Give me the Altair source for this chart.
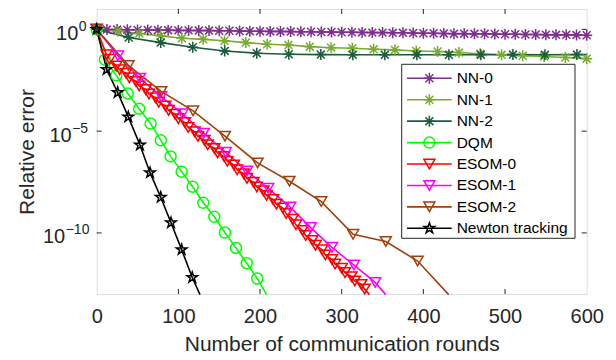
import math
import altair as alt
import pandas as pd

# ---------------- data ----------------
names = ["NN-0", "NN-1", "NN-2", "DQM", "ESOM-0", "ESOM-1", "ESOM-2", "Newton tracking"]
colors = ["#7E2F8E", "#77AC30", "#1A5C3C", "#00FF00", "#FF0000", "#FF00FF", "#A2400D", "#000000"]

nn0_x = [0, 12.5, 25, 37.5, 50, 62.5, 75, 87.5, 100, 112.5, 125, 137.5, 150, 162.5, 175, 187.5,
         200, 212.5, 225, 237.5, 250, 262.5, 275, 287.5, 300, 312.5, 325, 337.5, 350, 362.5, 375,
         387.5, 400, 412.5, 425, 437.5, 450, 462.5, 475, 487.5, 500, 512.5, 525, 537.5, 550, 562.5,
         575, 587.5, 600]
nn0_log = [0.00, -0.01, -0.01, -0.02, -0.03, -0.03, -0.04, -0.04, -0.05, -0.05, -0.06, -0.06, -0.07,
           -0.07, -0.08, -0.09, -0.09, -0.10, -0.10, -0.11, -0.12, -0.12, -0.13, -0.13, -0.14, -0.14,
           -0.15, -0.16, -0.16, -0.17, -0.17, -0.18, -0.19, -0.19, -0.20, -0.21, -0.21, -0.22, -0.22,
           -0.23, -0.24, -0.24, -0.25, -0.25, -0.26, -0.27, -0.27, -0.28, -0.29]

nn1_x = [0, 26.1, 52.2, 78.3, 104.3, 130.4, 156.5, 182.6, 208.7, 234.8, 260.9, 287.0, 313.0, 339.1,
         365.2, 391.3, 417.4, 443.5, 469.6, 495.7, 521.7, 547.8, 573.9, 600]
nn1_log = [0, -0.09, -0.20, -0.32, -0.44, -0.49, -0.56, -0.65, -0.73, -0.77, -0.85, -0.90, -0.93,
           -0.98, -1.01, -1.06, -1.09, -1.14, -1.20, -1.25, -1.30, -1.33, -1.38, -1.44]

nn2_x = [0, 39.2, 78.4, 117.6, 156.8, 196.0, 235.2, 274.4, 313.6, 352.8, 392.0, 431.2, 470.4,
         509.6, 548.8, 588.0]
nn2_log = [0, -0.40, -0.65, -0.88, -1.06, -1.17, -1.22, -1.24, -1.25, -1.25, -1.25, -1.25, -1.25,
           -1.24, -1.25, -1.24]
nn2_end = (600, -1.24)

dqm_x = [0, 10, 24, 38, 52, 66, 78.5, 90.5, 104, 117.5, 130.5, 144, 157, 170.6, 183.7, 196.6]
dqm_log = [0, -1.49, -2.26, -3.15, -3.90, -4.63, -5.45, -6.24, -6.99, -7.73, -8.52, -9.21, -9.98,
           -10.74, -11.49, -12.24]
dqm_end = (208, -13.03)

esom0_x = [0, 12, 16, 24, 28, 36, 40, 48, 52, 60, 64, 72, 76, 84, 88, 96, 100, 108, 112, 120, 124,
           132, 136, 144, 148, 156, 160, 168, 172, 180, 184, 192, 196, 204, 208, 216, 220, 228, 232,
           240, 244, 252, 256, 264, 268, 276, 280, 288, 292, 300, 304, 312, 316, 324, 328]
esom0_log = [0, -1.25, -1.47, -1.80, -1.98, -2.16, -2.38, -2.56, -2.78, -2.96, -3.18, -3.36, -3.58,
             -3.76, -3.98, -4.17, -4.39, -4.58, -4.82, -5.03, -5.26, -5.45, -5.67, -5.85, -6.07,
             -6.25, -6.48, -6.66, -6.90, -7.09, -7.32, -7.51, -7.74, -7.93, -8.16, -8.36, -8.59,
             -8.78, -9.05, -9.33, -9.60, -9.88, -10.13, -10.37, -10.61, -10.83, -11.08, -11.30,
             -11.53, -11.74, -11.95, -12.15, -12.36, -12.53, -12.75]
esom0_end = (334, -13.03)

esom1_x = [0, 26, 53, 79, 105, 131, 158, 184, 210, 237, 262, 288, 315, 341]
esom1_log = [0, -1.30, -2.40, -3.30, -4.15, -5.10, -6.04, -6.96, -7.81, -8.73, -9.74, -10.71,
             -11.58, -12.43]
esom1_end = (354, -13.03)

esom2_x = [0, 39, 79, 118, 157, 197, 236, 275, 314, 354, 393]
esom2_log = [0, -1.78, -3.05, -4.00, -5.25, -6.56, -7.46, -8.46, -10.07, -10.42, -11.38]
esom2_end = (431, -13.03)

newton_x = [0, 12.2, 25.7, 38.7, 53, 65.3, 78.4, 91, 104, 117]
newton_log = [0, -1.97, -3.10, -4.30, -5.68, -7.04, -8.25, -9.50, -10.82, -12.19]
newton_end = (126.5, -13.03)

x_ticks = [0, 100, 200, 300, 400, 500, 600]
y_tick_exp = [0, -5, -10]
y_tick_text = ["0", "\u22125", "\u221210"]

# ---------------- build table ----------------
rows = []


def add(series, xs, logs, end=None):
    for xv, lv in zip(xs, logs):
        rows.append({"series": series, "x": xv, "y": 10.0 ** lv, "m": True})
    if end is not None:
        rows.append({"series": series, "x": end[0], "y": 10.0 ** end[1], "m": False})


add("NN-0", nn0_x, nn0_log)
add("NN-1", nn1_x, nn1_log)
add("NN-2", nn2_x, nn2_log, nn2_end)
add("DQM", dqm_x, dqm_log, dqm_end)
add("ESOM-0", esom0_x, esom0_log, esom0_end)
add("ESOM-1", esom1_x, esom1_log, esom1_end)
add("ESOM-2", esom2_x, esom2_log, esom2_end)
add("Newton tracking", newton_x, newton_log, newton_end)
df = pd.DataFrame(rows)

# ---------------- marker shapes ----------------
star_pts = []
for i in range(10):
    ang = math.radians(-90 + 36 * i)
    r = 1.0 if i % 2 == 0 else 0.382
    star_pts.append(f"{r * math.cos(ang):.3f},{r * math.sin(ang):.3f}")
star = "M" + "L".join(star_pts) + "Z"
asterisk = "M0,-1L0,1M-1,0L1,0M-0.72,-0.72L0.72,0.72M-0.72,0.72L0.72,-0.72"
shapes = [asterisk, asterisk, asterisk, "circle", "triangle-down", "triangle-down",
          "triangle-down", star]
sizes = [121, 121, 121, 112, 144, 144, 144, 180]

W, H = 490, 285
AX = "#262626"
FONT = "Liberation Sans"

xscale = alt.Scale(domain=[0, 600], nice=False, zero=False)
yscale = alt.Scale(type="log", domain=[1e-13, 10], nice=False)
cscale = alt.Scale(domain=names, range=colors)
sscale = alt.Scale(domain=names, range=shapes)
zscale = alt.Scale(domain=names, range=sizes)

xaxis = alt.Axis(values=x_ticks, ticks=False, tickSize=0, domain=False, grid=False,
                 labelFontSize=20, labelColor=AX, labelPadding=28.5, labelBaseline="alphabetic",
                 labelFlush=False, labelFont=FONT,
                 title="Number of communication rounds", titleFontSize=21,
                 titleFontWeight="normal", titleColor=AX, titleFont=FONT,
                 titleBaseline="alphabetic", titleY=57, titleX=W / 2, titleAnchor="middle")
yaxis = alt.Axis(values=[10.0 ** e for e in y_tick_exp], ticks=False, tickSize=0, domain=False,
                 grid=False, labels=False,
                 title="Relative error", titleFontSize=21, titleFontWeight="normal",
                 titleColor=AX, titleFont=FONT, titleAngle=270, titleBaseline="alphabetic",
                 titleX=-63.5, titleY=H / 2, titleAnchor="middle")


def X(f):
    return alt.X(f, scale=xscale, axis=xaxis)


def Y(f):
    return alt.Y(f, scale=yscale, axis=yaxis)


color = alt.Color("series:N", scale=cscale, legend=None)
shape = alt.Shape("series:N", scale=sscale, legend=None)
size = alt.Size("series:N", scale=zscale, legend=None)

base = alt.Chart(df)
lines = base.mark_line(strokeWidth=1.6).encode(
    x=X("x:Q"), y=Y("y:Q"), color=color, detail="series:N", order="x:Q")
points = base.transform_filter("datum.m").mark_point(filled=False, strokeWidth=1.5, opacity=1).encode(
    x=X("x:Q"), y=Y("y:Q"), color=color, shape=shape, size=size)

xt = pd.DataFrame({"x": x_ticks[1:-1]})
yt = pd.DataFrame({"y": [10.0 ** e for e in y_tick_exp]})
tick_style = dict(color=AX, strokeWidth=1)
t_bottom = alt.Chart(xt).mark_rule(**tick_style).encode(x=X("x:Q"), y=alt.value(H), y2=alt.value(H - 5))
t_top = alt.Chart(xt).mark_rule(**tick_style).encode(x=X("x:Q"), y=alt.value(0), y2=alt.value(5))
t_left = alt.Chart(yt).mark_rule(**tick_style).encode(y=Y("y:Q"), x=alt.value(0), x2=alt.value(5))
t_right = alt.Chart(yt).mark_rule(**tick_style).encode(y=Y("y:Q"), x=alt.value(W), x2=alt.value(W - 5))

# y tick labels: "10" plus raised exponent
label_layers = []
base_end = [-18.4, -25.0, -31.5]
for e, txt, be in zip(y_tick_exp, y_tick_text, base_end):
    d = pd.DataFrame({"y": [10.0 ** e], "t": ["10"], "s": [txt]})
    label_layers.append(
        alt.Chart(d).mark_text(align="right", baseline="alphabetic", dy=10.5, fontSize=20,
                               font=FONT, color=AX).encode(y=Y("y:Q"), x=alt.value(be), text="t:N"))
    label_layers.append(
        alt.Chart(d).mark_text(align="left", baseline="alphabetic", dy=1.5, fontSize=14,
                               font=FONT, color=AX).encode(y=Y("y:Q"), x=alt.value(be + 0.5), text="s:N"))

main = alt.layer(lines, points, t_bottom, t_top, t_left, t_right, *label_layers)

# ---------------- legend ----------------
leg_df = pd.DataFrame({"series": names})
ly = alt.Y("series:N", scale=alt.Scale(type="point", domain=names, range=[69.3, 219.3], padding=0),
           axis=None)
box = alt.Chart(pd.DataFrame({"a": [0]})).mark_rect(fill="white", stroke=AX, strokeWidth=1).encode(
    x=alt.value(305), x2=alt.value(478.3), y=alt.value(55.3), y2=alt.value(229.3))
leg_lines = alt.Chart(leg_df).mark_rule(strokeWidth=1.6).encode(
    x=alt.value(310.3), x2=alt.value(355), y=ly, color=color)
leg_pts = alt.Chart(leg_df).mark_point(filled=False, strokeWidth=1.5, opacity=1).encode(
    x=alt.value(332.7), y=ly, color=color, shape=shape, size=size)
leg_text = alt.Chart(leg_df).mark_text(align="left", baseline="middle", fontSize=15.5, font=FONT,
                                       color="#000000").encode(x=alt.value(360), y=ly, text="series:N")
legend = alt.layer(box, leg_lines, leg_pts, leg_text)

chart = alt.layer(main, legend).resolve_scale(y="independent").properties(
    width=W, height=H,
    autosize=alt.AutoSizeParams(type="none"),
    padding={"left": 88.7, "top": 1, "right": 20, "bottom": 61},
    background="white",
).configure_view(stroke=AX, strokeWidth=1).configure(font=FONT)

chart.save("out.html", embed_options={"renderer": "svg", "actions": False})
